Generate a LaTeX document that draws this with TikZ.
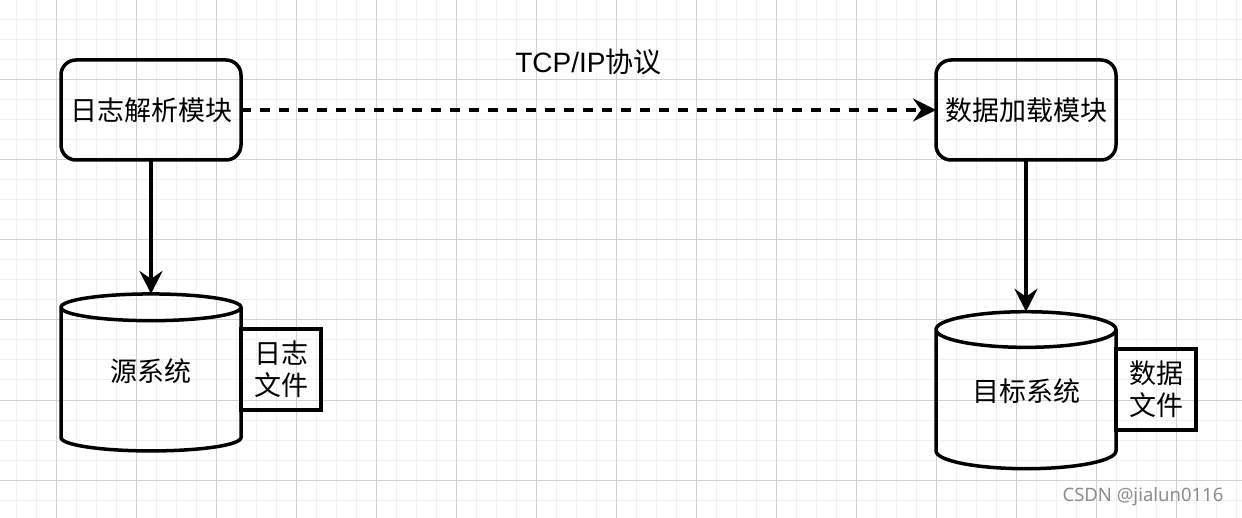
\documentclass[tikz,border=0pt]{standalone}
\usepackage{fontspec}
\setmainfont{Liberation Sans}
\newfontfamily\cjk{Noto Sans CJK SC}
\newfontfamily\wmfont{Noto Sans}
\usetikzlibrary{shapes.geometric,arrows.meta,positioning}

\begin{document}
\begin{tikzpicture}[x=1pt, y=-1pt, node distance = 20pt]
  \tikzstyle{minor} = [draw=black!6, line width=1pt]
  \tikzstyle{major} = [draw=black!18, line width=1pt]
  \tikzstyle{module} = [rectangle, rounded corners=15pt, minimum width=180pt, minimum height=100pt, draw, line width=3.5pt, text centered, inner sep=0pt, outer sep=0pt, font=\cjk\fontsize{27}{32}\selectfont]
  \tikzstyle{db} = [cylinder, shape border rotate=90, aspect=0.33, minimum width=180pt, minimum height=157pt, draw, line width=3.5pt, inner sep=0pt, outer sep=0pt, text height=11pt, text depth=8pt, font=\cjk\fontsize{27}{32}\selectfont]
  \tikzstyle{file} = [rectangle, minimum width=80pt, minimum height=81pt, draw, line width=3.5pt, align=center, inner sep=0pt, outer sep=0pt, font=\cjk\fontsize{27}{32}\selectfont]
  \tikzstyle{line} = [draw, line width=3.2pt, -{Stealth[length=23pt, width=23pt, inset=8pt]}]
  \tikzstyle{credit} = [text=black!45, inner sep=0pt, font=\wmfont\fontsize{18.5}{22}\selectfont]
  \useasboundingbox (0,0) rectangle (1242,518);
  % background grid
  \foreach \x in {16,36,...,1236} \path [minor] (\x,0) -- (\x,518);
  \foreach \y in {0,20,...,500} \path [minor] (0,\y) -- (1242,\y);
  \foreach \x in {56,136,...,1176} \path [major] (\x,0) -- (\x,518);
  \foreach \y in {0,80,...,480} \path [major] (0,\y) -- (1242,\y);
  % Place nodes
  \node [module] (parse) at (151,110) {日志解析模块};
  \node [module, right=695pt of parse] (load) {数据加载模块};
  \node [db] (src) at (151,380) {源系统};
  \node [db] (dst) at (1026,400) {目标系统};
  \node [file] (logfile) at (281,369.5) {日志\\文件};
  \node [file] (datafile) at (1156,389.5) {数据\\文件};
  \node [credit] (csdn) at (1143,497) {CSDN @jialun0116};

  \path [line, dash pattern=on 10pt off 9pt] (parse) -- (load)
  node [midway, yshift=48pt, inner sep=0pt, font=\fontsize{28}{32}\selectfont] (proto) {TCP/IP{\cjk 协议}};
  \path [line] (parse) -- (src);
  \path [line] (load) -- (dst);
\end{tikzpicture}
\end{document}
